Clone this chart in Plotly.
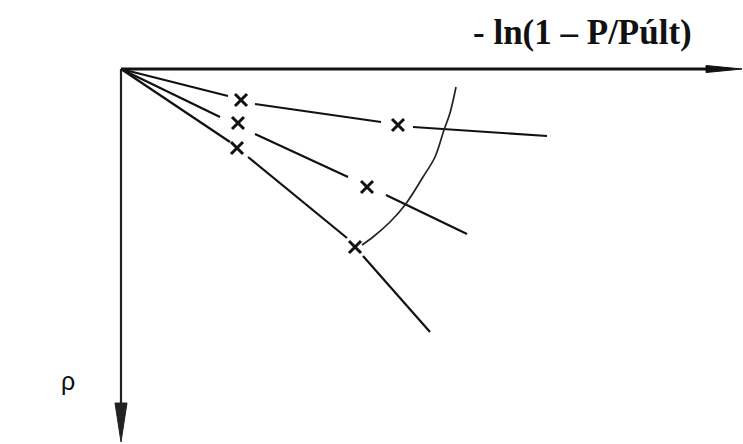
import plotly.graph_objects as go

# Schematic: -ln(1 - P/Pult) on the horizontal axis, rho downward.
# Units are arbitrary; the origin sits at the top-left corner.

# Three load curves, each drawn as three pieces broken around the crosses
curve1_x = [0.00, 1.07, None, 1.34, 2.60, None, 2.92, 4.26]
curve1_y = [0.00, 0.27, None, 0.35, 0.53, None, 0.58, 0.67]
curve2_x = [0.00, 0.99, None, 1.34, 2.27, None, 2.65, 3.46]
curve2_y = [0.00, 0.48, None, 0.65, 1.08, None, 1.26, 1.65]
curve3_x = [0.00, 1.09, None, 1.27, 2.26, None, 2.42, 3.09]
curve3_y = [0.00, 0.73, None, 0.88, 1.69, None, 1.87, 2.63]

# Measured points (crosses)
cross_x = [1.20, 2.77, 1.17, 2.46, 1.16, 2.34]
cross_y = [0.31, 0.56, 0.54, 1.18, 0.79, 1.78]

# Arc joining the outer points
arc_x = [3.35, 3.29, 3.23, 3.14, 3.02, 2.84, 2.69, 2.52, 2.41]
arc_y = [0.18, 0.44, 0.61, 0.88, 1.08, 1.36, 1.53, 1.68, 1.76]

# Axis extents
x_axis_end = 6.21
y_axis_end = 3.73
x_head_len, x_head_half = 0.36, 0.035
y_head_len, y_head_half = 0.39, 0.06

x_label = "- ln(1 – P/Púlt)"
y_label = "ρ"

fig = go.Figure()

# Axes
fig.add_trace(go.Scatter(x=[0, x_axis_end - x_head_len * 0.5], y=[0, 0], mode="lines",
                         line=dict(color="#111", width=3), hoverinfo="skip"))
fig.add_trace(go.Scatter(x=[0, 0], y=[0, y_axis_end - y_head_len * 0.5], mode="lines",
                         line=dict(color="#222", width=2.2), hoverinfo="skip"))
# Arrowheads
fig.add_trace(go.Scatter(
    x=[x_axis_end - x_head_len, x_axis_end, x_axis_end - x_head_len, x_axis_end - x_head_len],
    y=[-x_head_half, 0, x_head_half, -x_head_half],
    mode="lines", fill="toself", fillcolor="#111", line=dict(color="#111", width=1), hoverinfo="skip"))
fig.add_trace(go.Scatter(
    x=[-y_head_half, 0, y_head_half, -y_head_half],
    y=[y_axis_end - y_head_len, y_axis_end, y_axis_end - y_head_len, y_axis_end - y_head_len],
    mode="lines", fill="toself", fillcolor="#222", line=dict(color="#222", width=1), hoverinfo="skip"))

# Curves
for cx, cy in [(curve1_x, curve1_y), (curve2_x, curve2_y), (curve3_x, curve3_y)]:
    fig.add_trace(go.Scatter(x=cx, y=cy, mode="lines", connectgaps=False,
                             line=dict(color="#111", width=2.2), hoverinfo="skip"))

fig.add_trace(go.Scatter(x=arc_x, y=arc_y, mode="lines",
                         line=dict(color="#222", width=1.7, shape="spline", smoothing=1.0),
                         hoverinfo="skip"))

fig.add_trace(go.Scatter(x=cross_x, y=cross_y, mode="markers",
                         marker=dict(symbol="x-thin", size=12, line=dict(color="#111", width=3)),
                         hoverinfo="skip"))

fig.add_annotation(x=4.61, y=-0.37, text="<b>" + x_label + "</b>", showarrow=False,
                   font=dict(family="Liberation Serif", size=35, color="#111"))
fig.add_annotation(x=-0.53, y=3.12, text=y_label, showarrow=False,
                   font=dict(family="Liberation Sans", size=25, color="#111"))

fig.update_layout(
    width=743, height=444, autosize=False,
    margin=dict(l=0, r=0, t=0, b=0),
    paper_bgcolor="white", plot_bgcolor="white",
    showlegend=False,
    xaxis=dict(range=[-1.21, 6.22], visible=False, fixedrange=True),
    yaxis=dict(range=[3.75, -0.69], visible=False, fixedrange=True),
)

fig.write_html("out.html")
